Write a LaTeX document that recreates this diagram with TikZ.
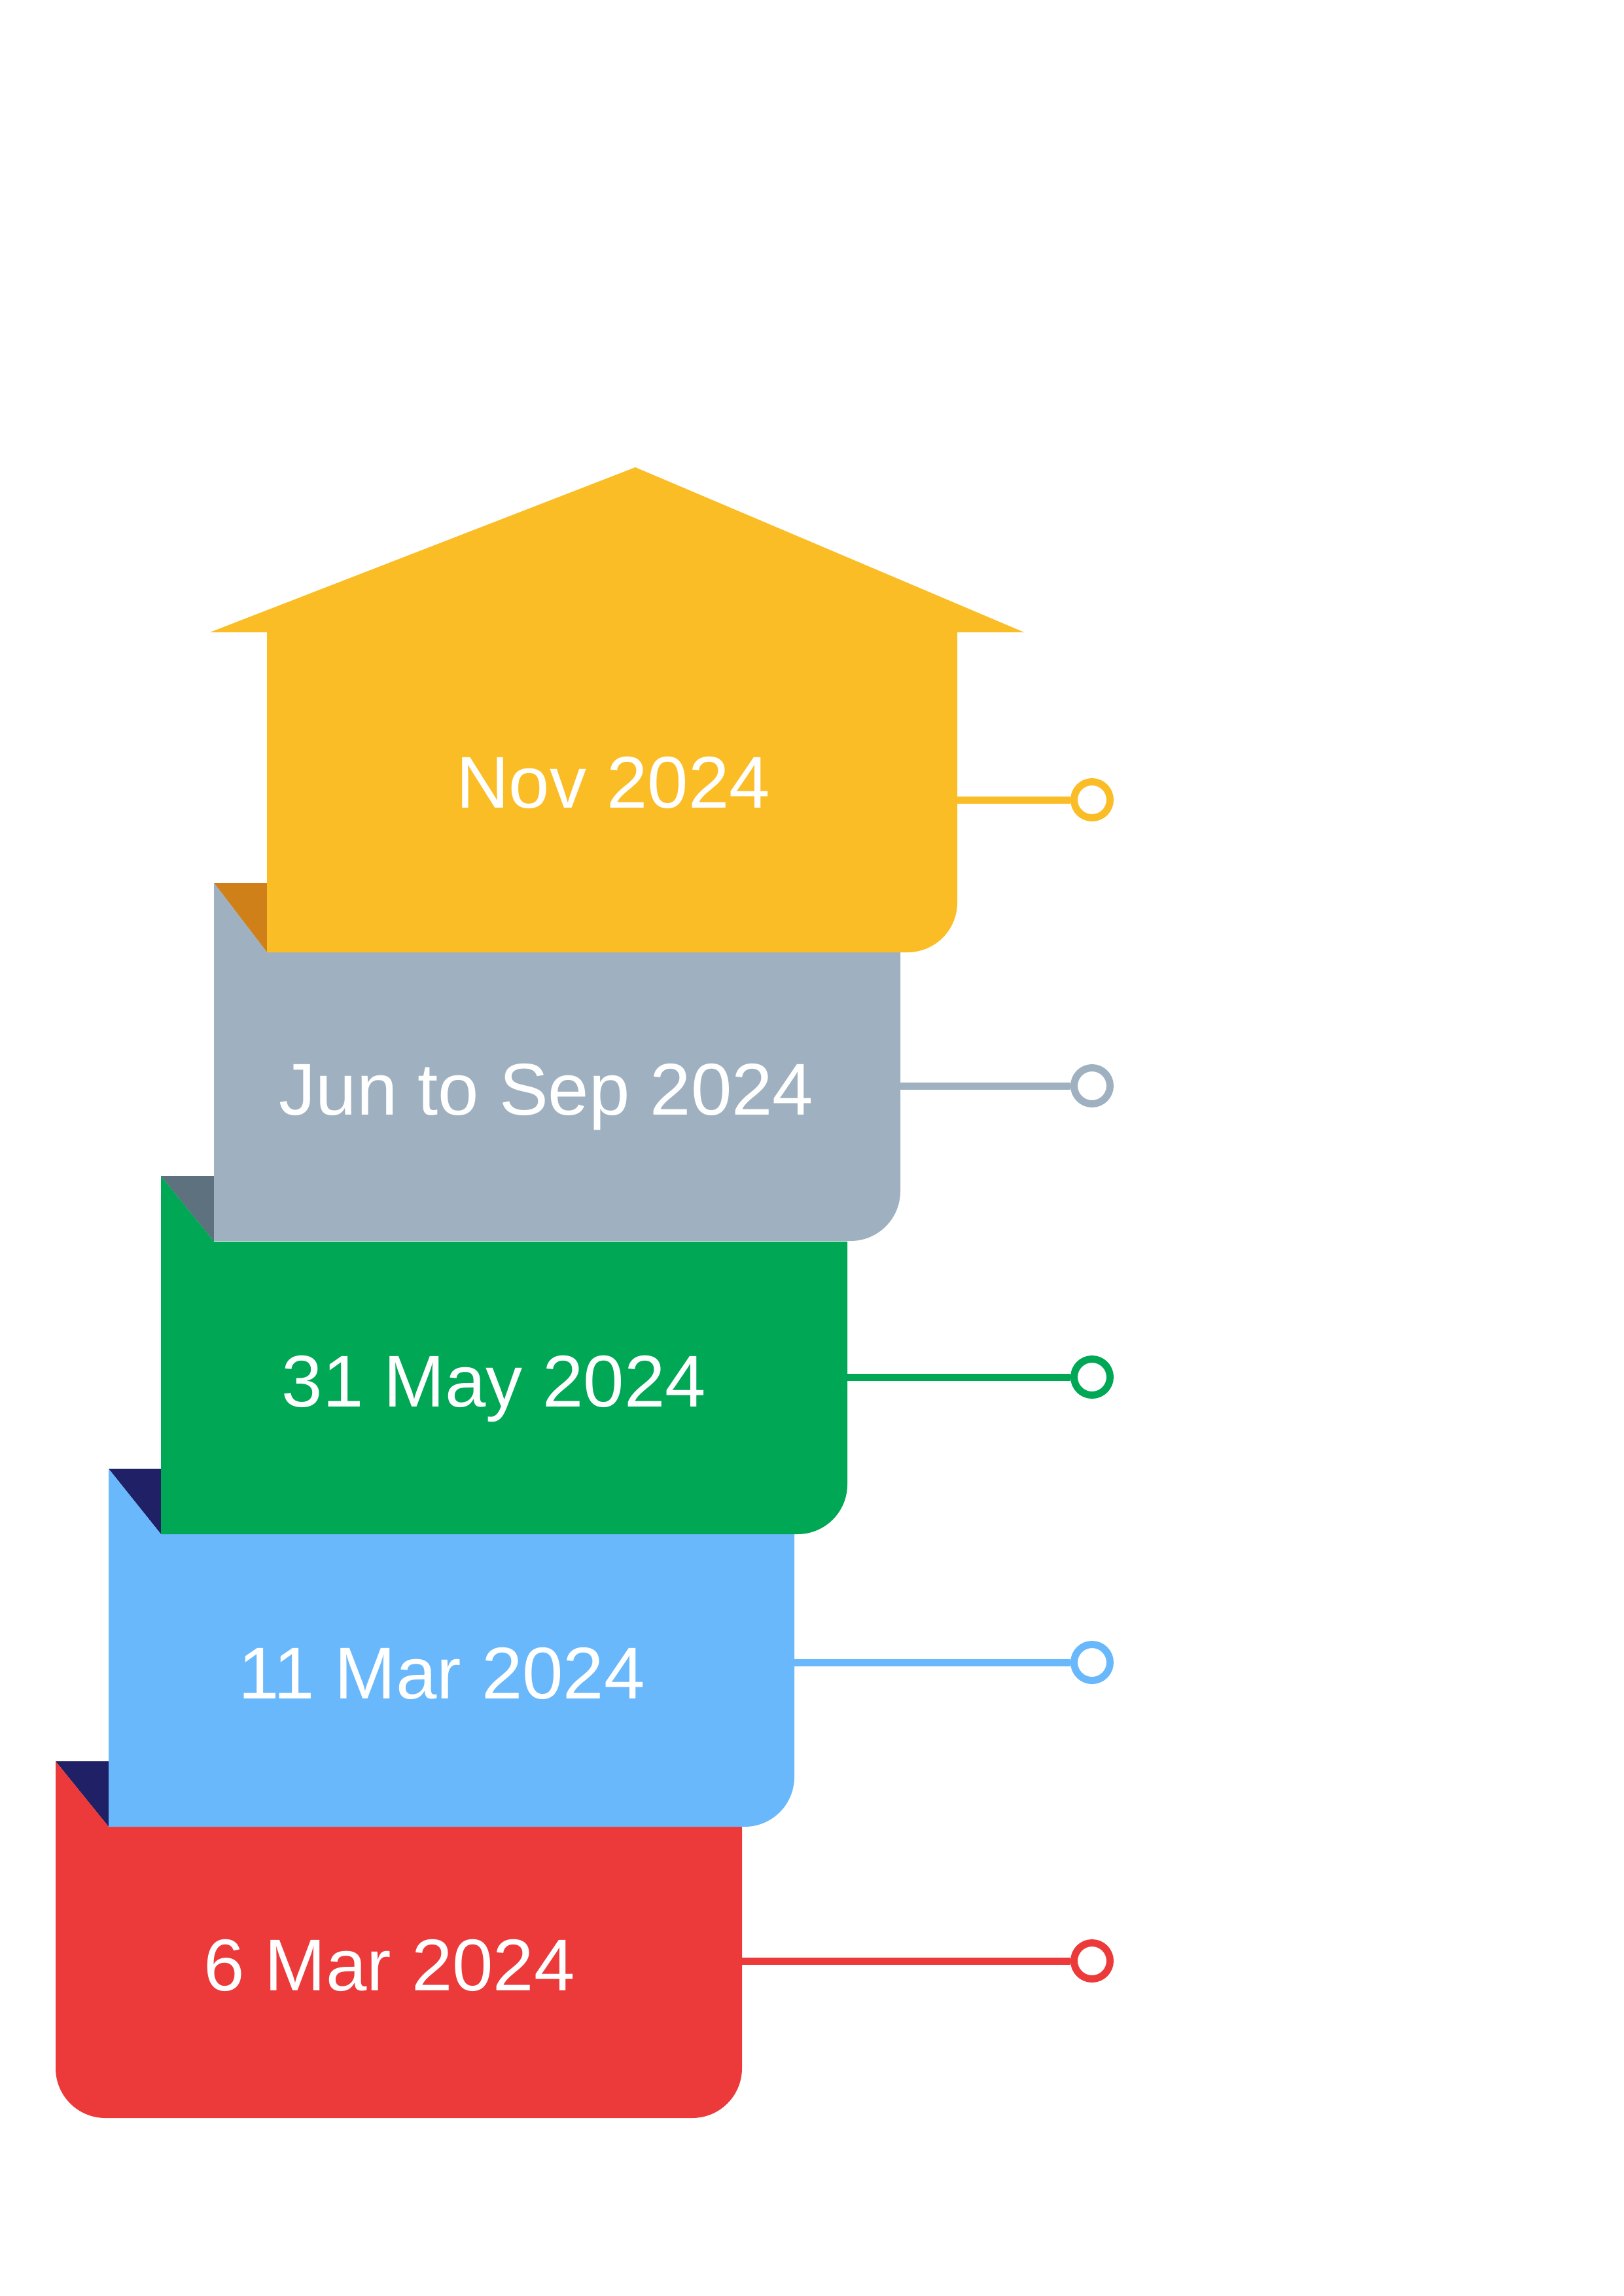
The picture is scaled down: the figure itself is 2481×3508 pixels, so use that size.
\documentclass[tikz,border=0pt]{standalone}
\usepackage{fontspec}
\setmainfont{Liberation Sans}
\usepackage{tikz}
\definecolor{Sun}{HTML}{FBBD26}
\definecolor{Rust}{HTML}{D08019}
\definecolor{Slate}{HTML}{9FB1C0}
\definecolor{DarkSlate}{HTML}{5E717E}
\definecolor{Leaf}{HTML}{00A755}
\definecolor{Sky}{HTML}{6AB8FC}
\definecolor{Ink}{HTML}{202066}
\definecolor{Brick}{HTML}{EC3A3B}

\begin{document}
\begin{tikzpicture}[x=0.084643mm,y=-0.084643mm,
    date/.style={text=white,anchor=base,inner sep=0pt,font=\fontsize{27}{32}\selectfont},
    dot/.style={circle,draw=#1,fill=white,line width=.93mm,minimum size=4.66mm,inner sep=0pt},
    link/.style={#1,line width=.93mm}]
        \useasboundingbox (0,0) rectangle (2481,3508);
        % 6 Mar
        \fill[Ink] (85,2691) -- (166,2691) -- (166,2791) -- cycle;
        \fill[Brick] (85,2691) -- (166,2791) -- (1134,2791) -- (1134,3160) arc[start angle=0,end angle=90,radius=76] -- (161,3236) arc[start angle=90,end angle=180,radius=76] -- cycle;
        % 11 Mar
        \fill[Ink] (166,2244) -- (246,2244) -- (246,2344) -- cycle;
        \fill[Sky] (166,2244) -- (246,2344) -- (1214,2344) -- (1214,2715) arc[start angle=0,end angle=90,radius=76] -- (166,2791) -- cycle;
        % 31 May
        \fill[DarkSlate] (246,1797) -- (327,1797) -- (327,1897) -- cycle;
        \fill[Leaf] (246,1797) -- (327,1897) -- (1295,1897) -- (1295,2268) arc[start angle=0,end angle=90,radius=76] -- (246,2344) -- cycle;
        % Jun to Sep
        \fill[Rust] (327,1349) -- (408,1349) -- (408,1455) -- cycle;
        \fill[Slate] (327,1349) -- (408,1455) -- (1376,1455) -- (1376,1820) arc[start angle=0,end angle=90,radius=76] -- (327,1896) -- cycle;
        % Nov (house)
        \fill[Sun] (321,966) -- (971,714) -- (1565,966) -- (1463,966) -- (1463,1379) arc[start angle=0,end angle=90,radius=76] -- (408,1455) -- (408,966) -- cycle;

        \node[date] (nov) at (937,1234) {Nov 2024};
        \node[date] (jun) at (835,1703) {Jun to Sep 2024};
        \node[date] (may) at (755,2149) {31 May 2024};
        \node[date] (marb) at (675,2595) {11 Mar 2024};
        \node[date] (mara) at (595,3041) {6 Mar 2024};

        \coordinate (enov) at (1463,1222);
        \coordinate (ejun) at (1376,1659);
        \coordinate (emay) at (1295,2104);
        \coordinate (emarb) at (1214,2540);
        \coordinate (emara) at (1134,2996);
        \node[dot=Sun] (cnov) at (1669,1222) {};
        \node[dot=Slate] (cjun) at (1669,1659) {};
        \node[dot=Leaf] (cmay) at (1669,2104) {};
        \node[dot=Sky] (cmarb) at (1669,2540) {};
        \node[dot=Brick] (cmara) at (1669,2996) {};
        \draw[link=Sun] (enov) -- (cnov);
        \draw[link=Slate] (ejun) -- (cjun);
        \draw[link=Leaf] (emay) -- (cmay);
        \draw[link=Sky] (emarb) -- (cmarb);
        \draw[link=Brick] (emara) -- (cmara);
      \end{tikzpicture}
\end{document}
